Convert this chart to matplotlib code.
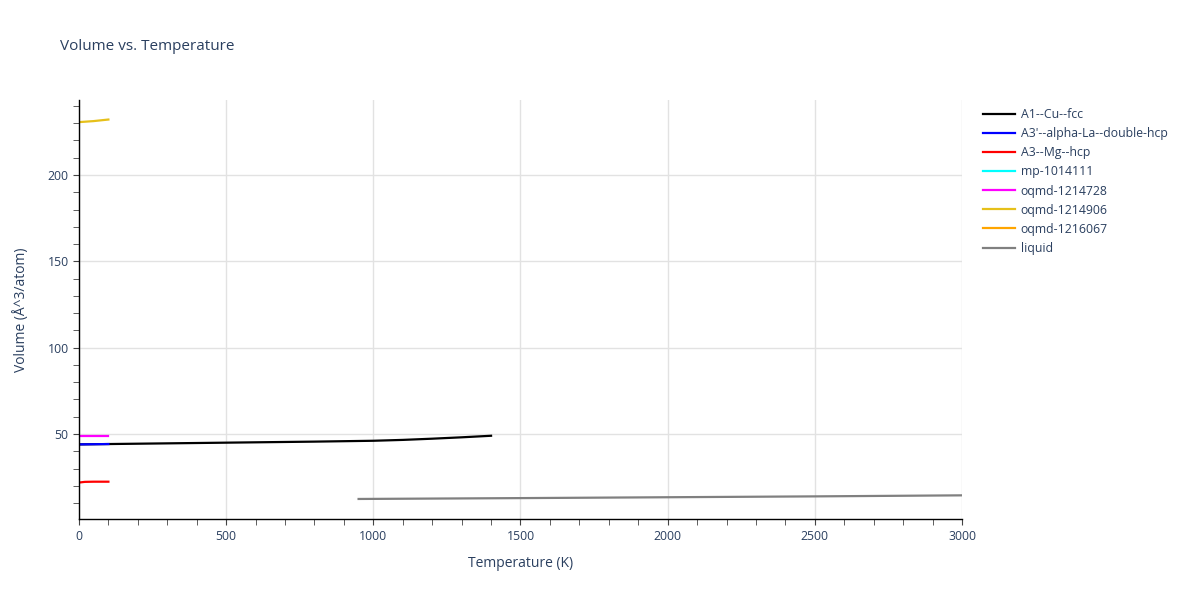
import numpy as np
import matplotlib.pyplot as plt
from matplotlib.ticker import MultipleLocator

plt.rcParams['font.family'] = ['Open Sans', 'DejaVu Sans']

# series data (temperature K, volume A^3/atom)
names = ['A1--Cu--fcc', "A3'--alpha-La--double-hcp", 'A3--Mg--hcp', 'mp-1014111',
         'oqmd-1214728', 'oqmd-1214906', 'oqmd-1216067', 'liquid']
colors = ['black', 'blue', 'red', 'cyan', 'magenta', '#e6c01a', 'orange', 'gray']

t_cu = [0, 200, 400, 600, 800, 1000, 1100, 1200, 1300, 1400]
v_cu = [44.0, 44.4, 44.8, 45.2, 45.6, 46.1, 46.6, 47.3, 48.1, 49.0]
t_la = [0, 50, 100]
v_la = [44.0, 44.1, 44.2]
t_mg = [0, 20, 50, 100]
v_mg = [21.9, 22.3, 22.4, 22.4]
t_mp = []
v_mp = []
t_oq1 = [0, 50, 100]
v_oq1 = [49.0, 49.0, 49.0]
t_oq2 = [0, 50, 100]
v_oq2 = [230.6, 231.2, 232.1]
t_oq3 = []
v_oq3 = []
t_liq = [950, 1500, 2000, 2500, 3000]
v_liq = [12.4, 12.9, 13.4, 13.9, 14.5]

xs = [t_cu, t_la, t_mg, t_mp, t_oq1, t_oq2, t_oq3, t_liq]
ys = [v_cu, v_la, v_mg, v_mp, v_oq1, v_oq2, v_oq3, v_liq]

txt = '#2a3f5f'
fig = plt.figure(figsize=(12, 6), dpi=100)
ax = fig.add_axes([0.0658, 0.135, 0.8017 - 0.0658, 0.8333 - 0.135])

for x, y, n, c in zip(xs, ys, names, colors):
    ax.plot(x, y, color=c, lw=1.6, label=n)

ax.set_xlim(0, 3000)
ax.set_ylim(0.8, 243.4)
ax.xaxis.set_major_locator(MultipleLocator(500))
ax.xaxis.set_minor_locator(MultipleLocator(100))
ax.yaxis.set_major_locator(MultipleLocator(50))
ax.yaxis.set_minor_locator(MultipleLocator(10))
ax.set_yticks([50, 100, 150, 200])
ax.grid(True, which='major', color='#e2e2e2', lw=1)
ax.set_axisbelow(True)
for s in ['top', 'right']:
    ax.spines[s].set_visible(False)
for s in ['left', 'bottom']:
    ax.spines[s].set_color('black')
    ax.spines[s].set_linewidth(1)
ax.tick_params(which='both', direction='out', length=4, color='#444444', labelcolor=txt, labelsize=8.8)
ax.tick_params(axis='x', pad=4)

ax.set_xlabel('Temperature (K)', color=txt, fontsize=10, labelpad=9)
ax.set_ylabel('Volume (Å^3/atom)', color=txt, fontsize=10, labelpad=13)
fig.text(0.05, 0.922, 'Volume vs. Temperature', color=txt, fontsize=11, va='center')

leg = ax.legend(loc='upper left', bbox_to_anchor=(0.815, 0.828), bbox_transform=fig.transFigure,
                frameon=False, fontsize=8.8, handlelength=2.6, labelspacing=0.5,
                handletextpad=0.5, borderaxespad=0)
for t in leg.get_texts():
    t.set_color(txt)

fig.savefig('out.png', dpi=100)
